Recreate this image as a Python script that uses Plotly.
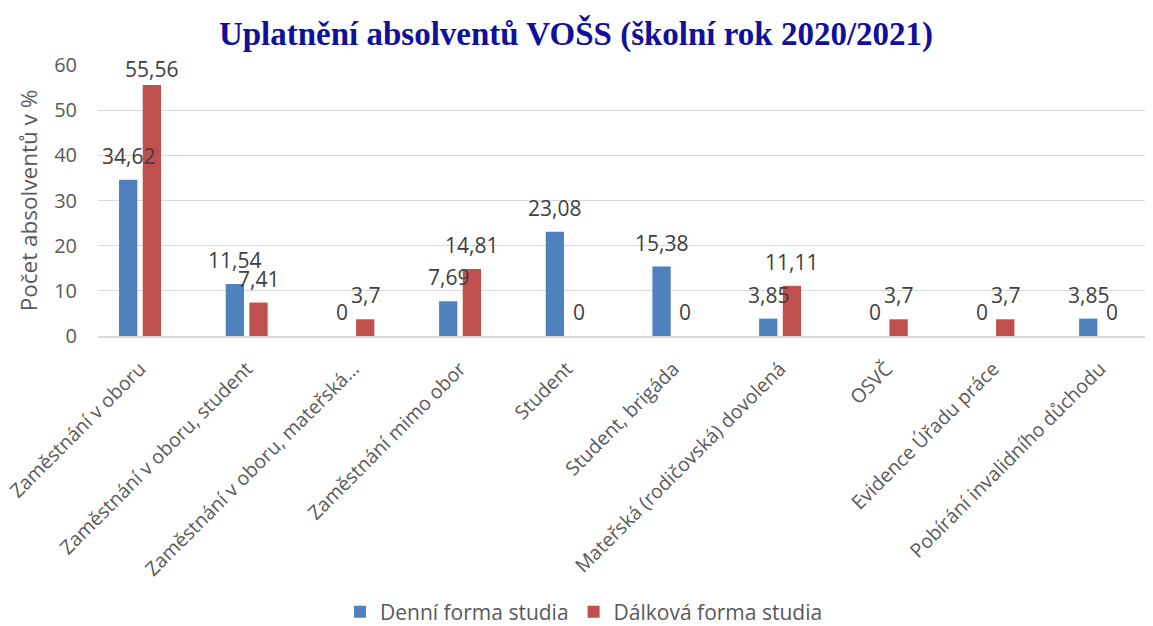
import plotly.graph_objects as go

categories = [
    "Zaměstnání v oboru",
    "Zaměstnání v oboru, student",
    "Zaměstnání v oboru, mateřská…",
    "Zaměstnání mimo obor",
    "Student",
    "Student, brigáda",
    "Mateřská (rodičovská) dovolená",
    "OSVČ",
    "Evidence Úřadu práce",
    "Pobírání invalidního důchodu",
]
denni = [34.62, 11.54, 0, 7.69, 23.08, 15.38, 3.85, 0, 0, 3.85]
dalkova = [55.56, 7.41, 3.7, 14.81, 0, 0, 11.11, 3.7, 3.7, 0]
series_names = ["Denní forma studia", "Dálková forma studia"]
colors = ["#4f81bd", "#c0504d"]

FONT = "Open Sans"
GREY = "#595959"
W, H = 1145, 618  # page body has an 8px margin

fig = go.Figure()
for name, vals, col in zip(series_names, [denni, dalkova], colors):
    fig.add_trace(go.Bar(x=categories, y=vals, name=name, marker_color=col,
                         marker_line_width=0))

def fmt(v):
    s = f"{v:.2f}".rstrip("0").rstrip(".")
    return s.replace(".", ",")

annotations = []
for vals, dx in [(denni, -11.85), (dalkova, 11.85)]:
    for c, v in zip(categories, vals):
        annotations.append(dict(
            x=c, y=v, xref="x", yref="y", text=fmt(v), showarrow=False,
            xshift=dx, yshift=16 if v > 50 else 24, yanchor="middle",
            font=dict(family=FONT, size=21, color="#404040")))

fig.update_layout(
    width=W, height=H,
    margin=dict(l=90, r=0, t=57, b=290),
    paper_bgcolor="white", plot_bgcolor="white",
    title=dict(text="<b>Uplatnění absolventů VOŠS (školní rok 2020/2021)</b>",
               x=568 / W, xanchor="center", y=1 - 25 / H, yanchor="middle",
               font=dict(family="Liberation Serif", size=33, color="#10109a")),
    barmode="group", bargap=0.556, bargroupgap=0.228,
    legend=dict(orientation="h", x=576 / W, xanchor="center", xref="container",
                y=1 - 604 / H, yanchor="middle", yref="container",
                font=dict(family=FONT, size=21, color=GREY), itemwidth=30,
                traceorder="normal"),
    annotations=annotations,
    font=dict(family=FONT, color=GREY),
)
fig.update_yaxes(range=[0, 60], dtick=10, showgrid=True, gridcolor="#d9d9d9", gridwidth=1,
                 zeroline=False, showline=False, ticklabelstandoff=20, automargin=False,
                 tickfont=dict(family=FONT, size=20, color=GREY),
                 title=dict(text="Počet absolventů v %", standoff=10,
                            font=dict(family=FONT, size=22.5, color=GREY)))
fig.update_xaxes(tickangle=-45, showline=True, linecolor="#d9d9d9", linewidth=1.5,
                 automargin=False, range=[-0.394, 9.496],
                 tickfont=dict(family=FONT, size=19.5, color=GREY), ticklabelstandoff=12)

fig.write_html("out.html")
